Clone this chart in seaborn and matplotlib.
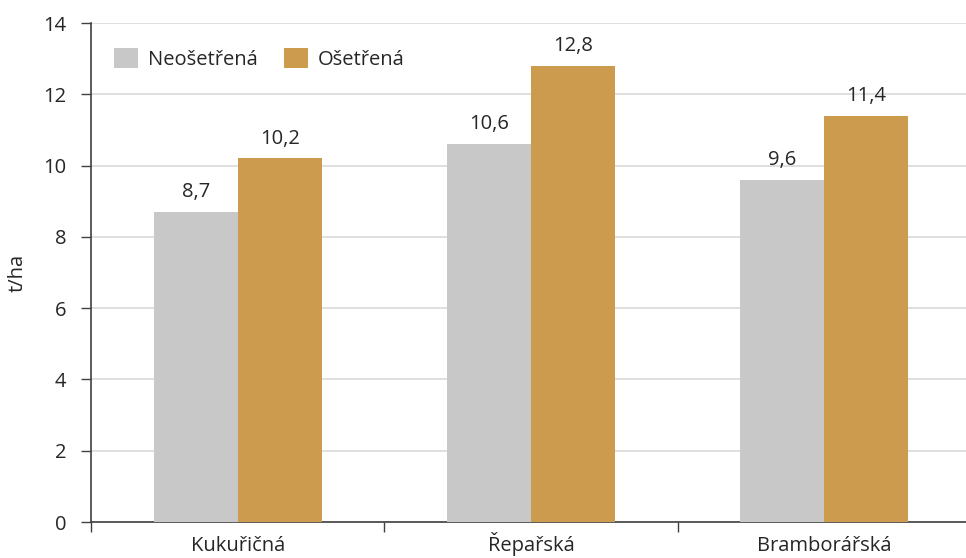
import pandas as pd
import seaborn as sns
import matplotlib.pyplot as plt

# Data
categories = ['Kukuřičná', 'Řepařská', 'Bramborářská']
neosetrena = [8.7, 10.6, 9.6]
osetrena = [10.2, 12.8, 11.4]
series = ['Neošetřená', 'Ošetřená']

df = pd.DataFrame({
    'kategorie': categories * 2,
    'varianta': [series[0]] * 3 + [series[1]] * 3,
    'hodnota': neosetrena + osetrena,
})

sns.set_style('white')
plt.rcParams['font.family'] = ['Open Sans', 'DejaVu Sans']
fs = 14.5
txt = '#262626'

fig = plt.figure(figsize=(9.66, 5.58), dpi=100)
ax = fig.add_axes([91 / 966, 36 / 558, 880 / 966, 499 / 558])

sns.barplot(data=df, x='kategorie', y='hodnota', hue='varianta',
            palette=['#C8C8C8', '#CC9B4E'], width=0.573, linewidth=0,
            saturation=1, ax=ax, zorder=3)

for cont in ax.containers:
    ax.bar_label(cont, labels=[f'{v:.1f}'.replace('.', ',') for v in cont.datavalues],
                 padding=7, fontsize=fs, color=txt)

ax.set_ylim(0, 14)
ax.set_yticks(range(0, 15, 2))
ax.set_xlim(-0.5, 2.5)
ax.yaxis.grid(True, color='#D9D9D9', linewidth=1.2, zorder=0)
ax.set_axisbelow(True)

ax.set_xticks([0, 1, 2])
ax.set_xticklabels(categories)
for lab in ax.get_xticklabels():
    lab.set_verticalalignment('baseline')
ax.set_xticks([-0.5, 0.5, 1.5, 2.5], minor=True)
ax.tick_params(axis='x', which='major', bottom=True, length=0, pad=21,
               labelsize=fs, labelcolor=txt)
ax.tick_params(axis='x', which='minor', bottom=True, length=7, width=1,
               color='#404040', direction='out')
ax.tick_params(axis='y', left=True, length=7, width=1, color='#404040', direction='out',
               labelsize=fs, labelcolor=txt, pad=11)

for s in ['top', 'right']:
    ax.spines[s].set_visible(False)
for s in ['left', 'bottom']:
    ax.spines[s].set_color('#404040')
    ax.spines[s].set_linewidth(1.2)

ax.set_xlabel('')
ax.set_ylabel('t/ha', fontsize=fs, color=txt)
ax.yaxis.set_label_coords(-63 / 880, 0.5)

leg = ax.legend(loc='upper left', ncol=2, frameon=False, fontsize=fs,
                bbox_to_anchor=(0.012, 0.975), handlelength=1.2, handleheight=1.2,
                columnspacing=1.3, handletextpad=0.5, borderaxespad=0.2)
for t in leg.get_texts():
    t.set_color(txt)

fig.savefig('out.png', dpi=100)
